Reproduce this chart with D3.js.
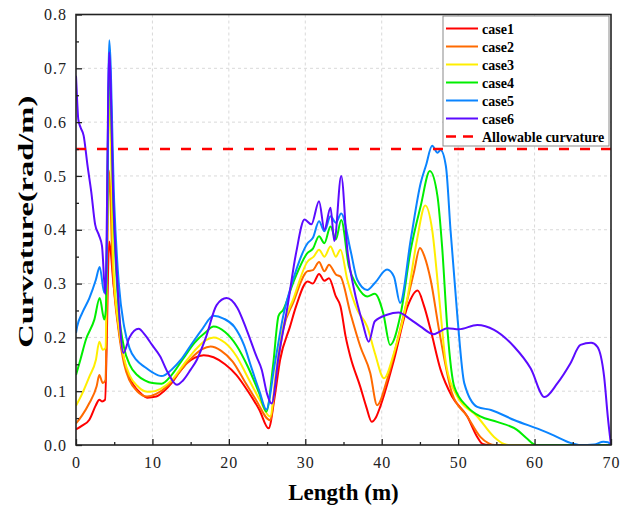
<!DOCTYPE html>
<html>
<head>
<meta charset="utf-8">
<script src="https://cdn.jsdelivr.net/npm/d3@7"></script>
<style>
  html, body { margin: 0; padding: 0; background: #fff; }
  svg { display: block; }
</style>
</head>
<body>
<svg id="svg" width="620" height="510"></svg>
<script>
// 数据：每条曲线 [Length(m), Curvature(rad/m)]
const case1 = [[0,0.029],[0.8,0.036],[1.75,0.047],[2.6,0.074],[3.05,0.084],[3.4,0.081],[3.8,0.084],[4.35,0.378],[4.9,0.3],[5.8,0.196],[6.6,0.14],[7.5,0.112],[8.4,0.097],[9.3,0.088],[10.5,0.09],[11.5,0.1],[12.5,0.115],[13.5,0.135],[14.5,0.152],[15.5,0.162],[16.7,0.167],[18,0.163],[19.5,0.15],[21,0.13],[22.5,0.1],[24,0.065],[25.2,0.031],[26,0.09],[26.7,0.158],[28,0.22],[28.8,0.258],[30.3,0.304],[31,0.3],[31.8,0.318],[32.5,0.305],[33.1,0.31],[34,0.276],[34.6,0.258],[35.3,0.2],[35.9,0.164],[37.2,0.108],[38,0.07],[38.7,0.043],[39.2,0.05],[39.8,0.071],[41.6,0.158],[43.4,0.258],[44.7,0.287],[45.5,0.26],[46.4,0.214],[47.7,0.14],[49.2,0.09],[51.2,0.053],[52.5,0.015],[53.2,0.002],[54,0],[70,0]];
const case2 = [[0,0.04],[0.8,0.055],[1.75,0.078],[2.7,0.109],[3.05,0.13],[3.5,0.115],[3.85,0.12],[4.3,0.51],[4.8,0.33],[5.6,0.21],[6.3,0.15],[7,0.12],[8,0.1],[9.3,0.09],[10.5,0.095],[12,0.11],[13.5,0.135],[15,0.16],[16.5,0.178],[17.6,0.183],[19,0.175],[20.5,0.155],[22,0.12],[23.5,0.085],[25.4,0.046],[26.2,0.13],[27.1,0.214],[28.4,0.264],[30.3,0.323],[31,0.325],[31.8,0.34],[32.5,0.323],[33.1,0.335],[34,0.317],[34.6,0.313],[35.9,0.245],[37.2,0.183],[38.5,0.134],[39.4,0.074],[40.7,0.121],[42.5,0.22],[44.2,0.32],[45,0.366],[45.6,0.35],[46.4,0.307],[47.5,0.214],[49.2,0.096],[51.2,0.053],[52.9,0.015],[54,0.003],[54.8,0],[70,0]];
const case3 = [[0,0.073],[0.8,0.095],[1.75,0.127],[2.6,0.158],[3.05,0.192],[3.5,0.177],[3.85,0.18],[4.35,0.655],[4.9,0.33],[5.6,0.22],[6.3,0.16],[7,0.13],[8,0.11],[9,0.1],[9.7,0.099],[11,0.104],[12.5,0.12],[14,0.148],[15.5,0.175],[17,0.195],[18,0.2],[19.5,0.19],[21,0.165],[22.5,0.125],[24,0.085],[25.4,0.053],[26.2,0.14],[27.1,0.22],[28.4,0.27],[30.3,0.341],[31.1,0.35],[31.8,0.363],[32.5,0.35],[33.3,0.369],[34,0.35],[34.6,0.363],[35.5,0.307],[36.8,0.251],[38.1,0.22],[39.1,0.171],[40.3,0.124],[41.6,0.171],[43.4,0.276],[44.6,0.38],[45.7,0.445],[46.6,0.4],[47.5,0.276],[48.4,0.152],[49.9,0.09],[52.5,0.053],[54.7,0.015],[56,0.002],[56.6,0],[70,0]];
const case4 = [[0,0.13],[0.6,0.16],[1.3,0.196],[2.4,0.233],[3.1,0.273],[3.7,0.233],[3.9,0.25],[4.35,0.7],[5,0.4],[5.6,0.25],[6.3,0.18],[7,0.15],[8,0.13],[9,0.12],[10,0.115],[11.2,0.114],[12.5,0.13],[14,0.16],[15.5,0.19],[17,0.21],[18,0.22],[19.5,0.21],[21,0.185],[22.5,0.145],[24,0.095],[24.9,0.062],[25.8,0.15],[26.5,0.24],[27.1,0.251],[28.4,0.301],[30.3,0.357],[31,0.365],[31.8,0.388],[32.5,0.375],[33.3,0.406],[34,0.382],[34.7,0.418],[35.7,0.332],[36.8,0.295],[38.1,0.276],[39.1,0.281],[40.2,0.245],[41.1,0.186],[42.5,0.245],[43.8,0.363],[45.1,0.444],[46.3,0.509],[47.3,0.462],[47.9,0.369],[48.6,0.214],[49.5,0.108],[51.2,0.071],[52.9,0.053],[55.1,0.043],[57.7,0.028],[59,0.012],[60.2,0],[70,0]];
const case5 = [[0,0.208],[0.15,0.22],[0.8,0.245],[1.75,0.273],[2.6,0.307],[3.1,0.331],[3.7,0.283],[3.95,0.3],[4.35,0.752],[5,0.45],[5.6,0.3],[6.3,0.22],[7,0.18],[7.9,0.158],[9,0.145],[10,0.135],[11.2,0.128],[12.5,0.14],[13.7,0.158],[15,0.185],[16.5,0.215],[18,0.24],[19.3,0.235],[20.7,0.22],[22,0.185],[22.9,0.146],[24,0.1],[24.9,0.066],[26,0.15],[27.1,0.239],[28.4,0.307],[30.3,0.375],[31,0.385],[31.8,0.416],[32.5,0.397],[33.3,0.425],[34,0.413],[34.7,0.43],[35.9,0.363],[36.8,0.307],[38.1,0.288],[39.1,0.301],[40.7,0.326],[41.6,0.313],[42.4,0.264],[43.8,0.382],[45.1,0.487],[45.8,0.52],[46.6,0.556],[47.3,0.543],[47.7,0.548],[48.4,0.518],[49,0.4],[49.9,0.239],[50.8,0.115],[52.5,0.071],[54.3,0.065],[57.4,0.046],[60.8,0.028],[62.5,0.018],[64.7,0.004],[66,0],[67.8,0.001],[69,0.006],[69.6,0.005],[70,0]];
const case6 = [[0,0.686],[0.15,0.64],[0.3,0.605],[0.6,0.59],[1,0.575],[1.5,0.52],[2,0.47],[2.5,0.41],[3,0.39],[3.4,0.37],[3.85,0.28],[4.35,0.73],[4.9,0.45],[5.5,0.28],[6.2,0.171],[7,0.2],[8.2,0.216],[9,0.205],[10,0.185],[11,0.165],[12,0.135],[13.2,0.112],[14,0.12],[15,0.14],[15.8,0.158],[17,0.2],[18.4,0.26],[19.7,0.273],[21.1,0.255],[22.3,0.215],[23.6,0.165],[24.3,0.14],[25,0.095],[25.6,0.077],[26.5,0.164],[27.6,0.251],[28.8,0.357],[29.9,0.419],[30.8,0.41],[31.8,0.453],[32.5,0.4],[33.3,0.441],[33.8,0.379],[34.7,0.5],[35.5,0.363],[36.4,0.288],[37.5,0.227],[38.3,0.192],[39.1,0.23],[40.7,0.242],[42.2,0.246],[43.8,0.233],[45.1,0.22],[46.8,0.206],[48.6,0.217],[50.1,0.215],[52.5,0.223],[54.7,0.214],[57.3,0.183],[59.5,0.142],[61.3,0.089],[63,0.115],[64.7,0.152],[66,0.186],[67.4,0.19],[68.2,0.183],[69.1,0.127],[69.6,0.05],[70,0]];

const seriesNames = ["case1", "case2", "case3", "case4", "case5", "case6"];
const seriesData = [case1, case2, case3, case4, case5, case6];
const seriesColors = ["#ff0000", "#ff6a00", "#ffee00", "#00ee00", "#0a84ff", "#5b0bff"];
const allowable = 0.55;
const allowableLabel = "Allowable curvature";

const xTicks = [0, 10, 20, 30, 40, 50, 60, 70];
const xMinor = [5, 15, 25, 35, 45, 55, 65];
const yTicks = [0, 0.1, 0.2, 0.3, 0.4, 0.5, 0.6, 0.7, 0.8];
const yMinor = [0.05, 0.15, 0.25, 0.35, 0.45, 0.55, 0.65, 0.75];

// 画布布局
const L = 76, R = 611, T = 14.5, B = 445;
const svg = d3.select("#svg");
const x = d3.scaleLinear().domain([0, 70]).range([L, R]);
const y = d3.scaleLinear().domain([0, 0.8]).range([B, T]);
const serif = "'Liberation Serif', 'Times New Roman', serif";

// 网格（虚线）
const grid = svg.append("g");
grid.selectAll("line.gx").data(xTicks.slice(1, -1)).join("line")
  .attr("x1", d => x(d)).attr("x2", d => x(d)).attr("y1", T).attr("y2", B)
  .attr("stroke", "#d9d9d9").attr("stroke-width", 1).attr("stroke-dasharray", "3,3");
grid.selectAll("line.gy").data(yTicks.slice(1, -1)).join("line")
  .attr("x1", L).attr("x2", R).attr("y1", d => y(d)).attr("y2", d => y(d))
  .attr("stroke", "#d9d9d9").attr("stroke-width", 1).attr("stroke-dasharray", "3,3");

// 裁剪
svg.append("clipPath").attr("id", "clip").append("rect")
  .attr("x", L).attr("y", T).attr("width", R - L).attr("height", B - T);

const line = d3.line().x(d => x(d[0])).y(d => y(d[1])).curve(d3.curveMonotoneX);
const plot = svg.append("g").attr("clip-path", "url(#clip)");
seriesData.forEach((s, i) => {
  plot.append("path")
    .attr("d", line(s))
    .attr("fill", "none")
    .attr("stroke", seriesColors[i])
    .attr("stroke-width", 2)
    .attr("stroke-linejoin", "round");
});

// 允许曲率
plot.append("line")
  .attr("x1", L).attr("x2", R).attr("y1", y(allowable)).attr("y2", y(allowable))
  .attr("stroke", "#ff0000").attr("stroke-width", 2.5).attr("stroke-dasharray", "10,11");

// 坐标轴，刻度朝内
const xAxis = svg.append("g").attr("transform", `translate(0,${B})`)
  .call(d3.axisBottom(x).tickValues(xTicks).tickSize(-6).tickPadding(12).tickFormat(d3.format("d")));
svg.append("g").attr("transform", `translate(0,${B})`)
  .call(d3.axisBottom(x).tickValues(xMinor).tickSize(-3).tickFormat(""));
const yAxis = svg.append("g").attr("transform", `translate(${L},0)`)
  .call(d3.axisLeft(y).tickValues(yTicks).tickSize(-6).tickPadding(9).tickFormat(d3.format(".1f")));
svg.append("g").attr("transform", `translate(${L},0)`)
  .call(d3.axisLeft(y).tickValues(yMinor).tickSize(-3).tickFormat(""));

svg.selectAll(".domain").remove();
svg.selectAll(".tick line").attr("stroke", "#222").attr("stroke-width", 1.3);
svg.selectAll(".tick text")
  .attr("font-family", serif).attr("font-size", 16).attr("fill", "#222")
  .attr("letter-spacing", 1);

// 边框
svg.append("rect")
  .attr("x", L).attr("y", T).attr("width", R - L).attr("height", B - T)
  .attr("fill", "none").attr("stroke", "#222").attr("stroke-width", 1.6);

// 轴标题
svg.append("text")
  .attr("x", (L + R) / 2).attr("y", 500)
  .attr("text-anchor", "middle")
  .attr("font-family", serif).attr("font-weight", "bold").attr("font-size", 23)
  .text("Length (m)");
svg.append("text")
  .attr("transform", `translate(33,${(T + B) / 2 - 8}) rotate(-90)`)
  .attr("text-anchor", "middle")
  .attr("font-family", serif).attr("font-weight", "bold").attr("font-size", 22)
  .attr("textLength", 252).attr("lengthAdjust", "spacingAndGlyphs")
  .text("Curvature(rad/m)");

// 图例
const lg = svg.append("g");
lg.append("rect")
  .attr("x", 443).attr("y", 16).attr("width", 166).attr("height", 130)
  .attr("fill", "#fff").attr("stroke", "#8a8a8a").attr("stroke-width", 1);
const legendItems = seriesNames.map((n, i) => ({ name: n, color: seriesColors[i], dash: null }))
  .concat([{ name: allowableLabel, color: "#ff0000", dash: "10,7" }]);
legendItems.forEach((d, i) => {
  const yy = 28.5 + i * 18;
  lg.append("line")
    .attr("x1", 446).attr("x2", 478).attr("y1", yy).attr("y2", yy)
    .attr("stroke", d.color).attr("stroke-width", d.dash ? 2.5 : 2)
    .attr("stroke-dasharray", d.dash);
  lg.append("text")
    .attr("x", 482).attr("y", yy + 5)
    .attr("font-family", serif).attr("font-weight", "bold").attr("font-size", 14)
    .text(d.name);
});
</script>
</body>
</html>
